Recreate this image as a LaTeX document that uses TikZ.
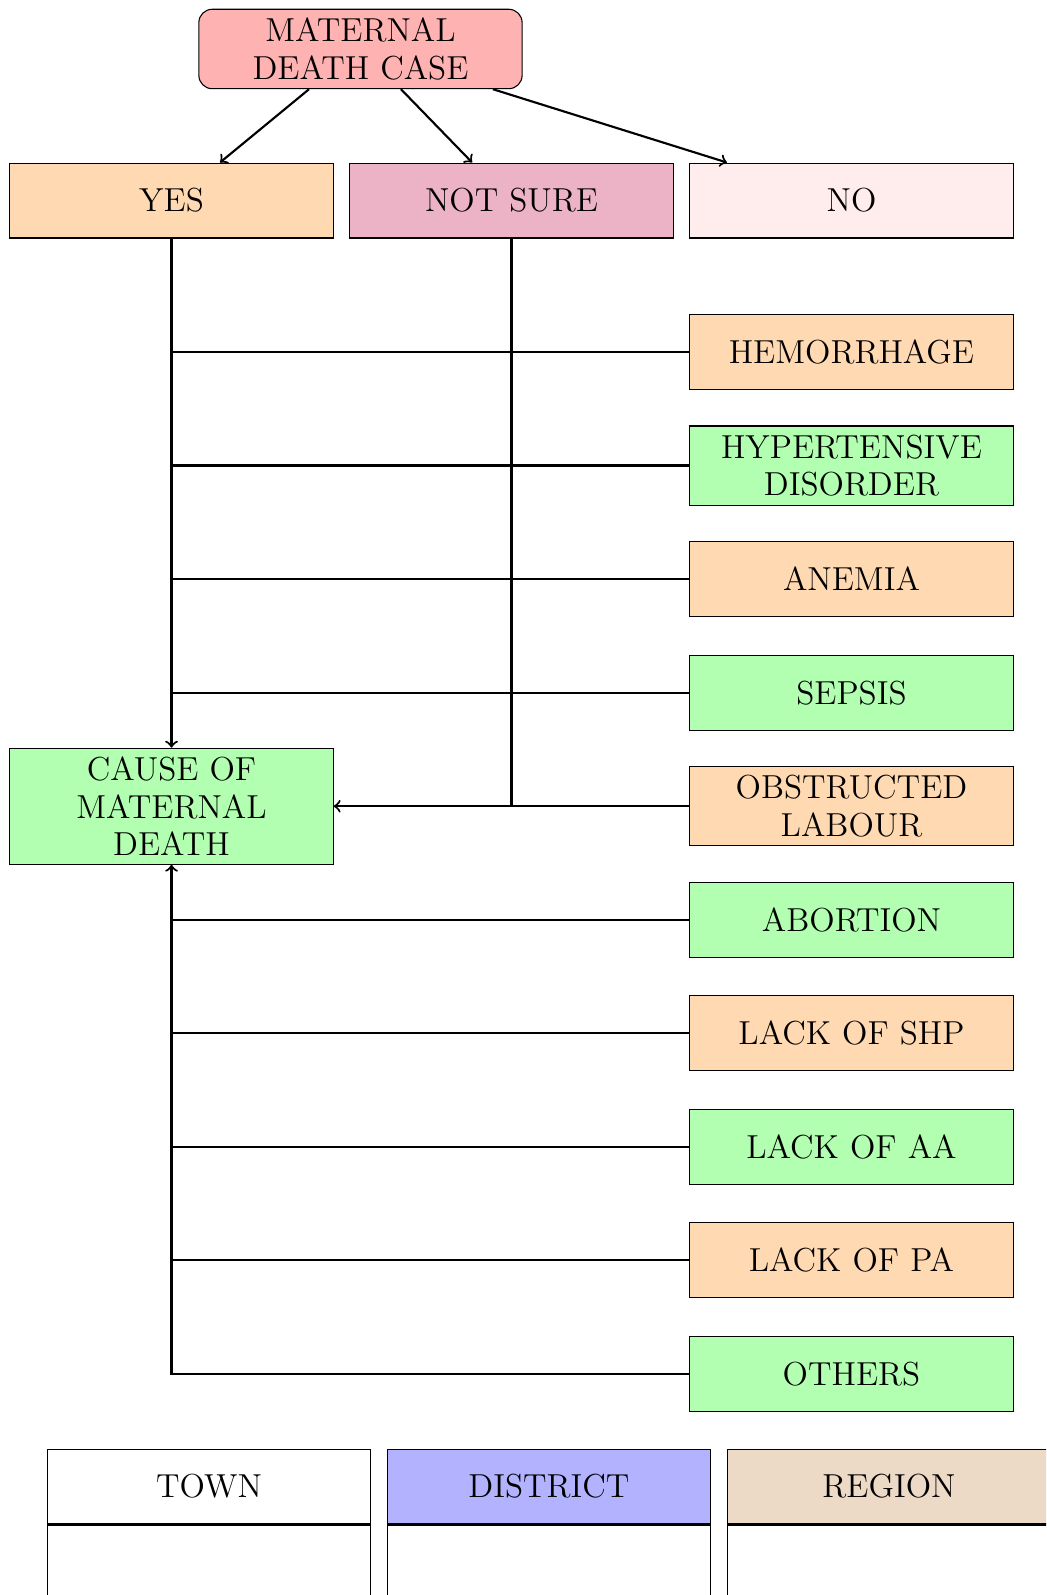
\documentclass[tikz,border=0pt]{standalone}
\usepackage{xcolor}
\usepackage{tikz}
\usetikzlibrary{positioning}
\hyphenpenalty=10000

\begin{document}
\begin{tikzpicture}[%
% common options for boxes:
box/.style = {draw, rectangle, text width=3.5cm, align=center,
            minimum width=4.27cm, minimum height=0.99cm,
            font=\fontsize{12.5pt}{14pt}\selectfont},
% common options for the connectors:
link/.style = {thick}]
\clip (0,0) rectangle (13.82,-21.07);
\node[box,rounded corners=5pt,fill=red!30] (D0) at (4.762,-0.647) {MATERNAL DEATH CASE};
\node[box,fill=orange!30] (A1) at (2.266,-2.649) {YES};
\node[box,fill=purple!30] (A2) at (6.757,-2.649) {NOT SURE};
\node[box,fill=pink!30] (A3) at (11.248,-2.649) {NO};
\node[box,fill=orange!30] (B1) at (11.248,-4.65) {HEMORRHAGE};
\node[box,fill=green!30] (B2) at (11.248,-6.15) {HYPERTENSIVE DISORDER};
\node[box,fill=orange!30] (B3) at (11.248,-7.65) {ANEMIA};
\node[box,fill=green!30] (B4) at (11.248,-9.15) {SEPSIS};
\node[box,fill=orange!30] (B5) at (11.248,-10.65) {OBSTRUCTED LABOUR};
\node[box,fill=green!30] (B6) at (11.248,-12.15) {ABORTION};
\node[box,fill=orange!30] (B7) at (11.248,-13.65) {LACK OF SHP};
\node[box,fill=green!30] (B8) at (11.248,-15.15) {LACK OF AA};
\node[box,fill=orange!30] (B9) at (11.248,-16.65) {LACK OF PA};
\node[box,fill=green!30] (B10) at (11.248,-18.15) {OTHERS};
\node[box,fill=green!30] (C0) at (2.266,-10.65) {CAUSE OF MATERNAL DEATH};
\node[box] (L1) at (2.761,-19.637) {TOWN};
\node[box,fill=blue!30] (L2) at (7.252,-19.637) {DISTRICT};
\node[box,fill=brown!30] (L3) at (11.744,-19.637) {REGION};
\node[box,below=0pt of L1] (L1b) {};
\node[box,below=0pt of L2] (L2b) {};
\node[box,below=0pt of L3] (L3b) {};
\draw[link,->] ([xshift=-0.68cm]D0.south) to ([xshift=0.64cm]A1.north);
\draw[link,->] ([xshift=0.535cm]D0.south) to ([xshift=-0.52cm]A2.north);
\draw[link,->] ([xshift=1.75cm]D0.south) to ([xshift=-1.645cm]A3.north);
\draw[link,->] (A1.south) to (C0.north);
\draw[link] (A2.south) to (A2.south |- C0.east);
\foreach \i in {1,2,3,4,6,7,8,9}
  \draw[link] (B\i.west) to (B\i.west -| A1.south);
\draw[link,->] (B5.west) to (C0.east);
\draw[link,->] (B10.west) -| (C0.south);
\end{tikzpicture}
\end{document}
